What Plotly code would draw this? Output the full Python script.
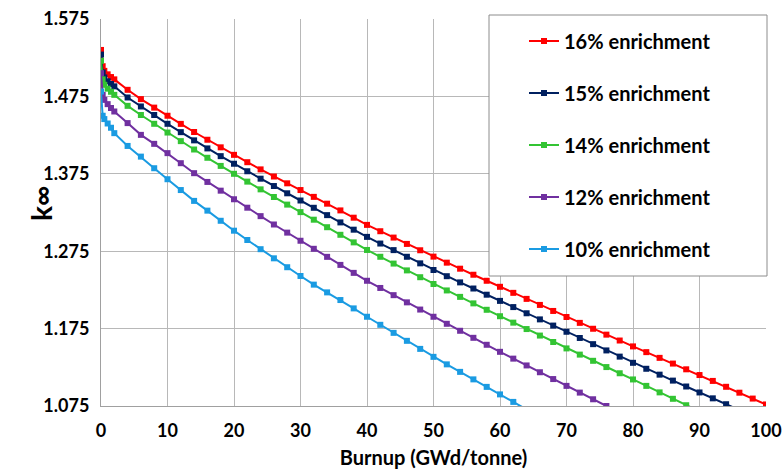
import plotly.graph_objects as go

# Burnup steps (GWd/tonne)
burnup = [0, 0.25, 0.5, 1, 1.5] + list(range(2, 101, 2))

series_names = ["16% enrichment", "15% enrichment", "14% enrichment",
                "12% enrichment", "10% enrichment"]

k16 = [1.535, 1.514, 1.508, 1.5035, 1.500,
       1.497, 1.4835, 1.4715, 1.4605, 1.450, 1.4395, 1.429, 1.419, 1.4092, 1.3995,
       1.390, 1.3807, 1.3715, 1.3627, 1.354, 1.3452, 1.3364, 1.3277, 1.3183, 1.309,
       1.3008, 1.2926, 1.2844, 1.2762, 1.268, 1.2602, 1.2524, 1.2446, 1.2368, 1.229,
       1.2212, 1.2134, 1.2056, 1.1978, 1.190, 1.1824, 1.1748, 1.1672, 1.1596, 1.152,
       1.1446, 1.1372, 1.1298, 1.1224, 1.115, 1.1074, 1.0998, 1.0922, 1.0846, 1.077]

k15 = [1.529, 1.506, 1.4995, 1.4945, 1.491,
       1.488, 1.4736, 1.462, 1.451, 1.4396, 1.4288, 1.4182, 1.4078, 1.3978, 1.388,
       1.3783, 1.3687, 1.3592, 1.3498, 1.3405, 1.3311, 1.3216, 1.3122, 1.3028, 1.2935,
       1.2849, 1.2764, 1.2678, 1.2593, 1.2507, 1.2427, 1.2347, 1.2268, 1.2188, 1.2108,
       1.2028, 1.1948, 1.1869, 1.1789, 1.1709, 1.1629, 1.1549, 1.1468, 1.1388, 1.1308,
       1.1231, 1.1155, 1.1078, 1.1002, 1.0925, 1.0849, 1.0773, 1.0697]

k14 = [1.521, 1.497, 1.490, 1.485, 1.481,
       1.477, 1.4628, 1.451, 1.4396, 1.4283, 1.4172, 1.4064, 1.3957, 1.3852, 1.375,
       1.3649, 1.3549, 1.345, 1.3352, 1.3255, 1.3157, 1.306, 1.2962, 1.2864, 1.2766,
       1.2678, 1.259, 1.2502, 1.2414, 1.2326, 1.2243, 1.216, 1.2076, 1.1993, 1.191,
       1.1827, 1.1744, 1.166, 1.1577, 1.1494, 1.1414, 1.1334, 1.1253, 1.1173, 1.1093,
       1.101, 1.0926, 1.0843, 1.076, 1.068]

k12 = [1.505, 1.477, 1.4705, 1.465, 1.460,
       1.4555, 1.4405, 1.4253, 1.4137, 1.4017, 1.3887, 1.3758, 1.3645, 1.3532, 1.3421,
       1.3312, 1.3203, 1.3095, 1.299, 1.2885, 1.2781, 1.2677, 1.2573, 1.247, 1.2368,
       1.2275, 1.2182, 1.2089, 1.1996, 1.1903, 1.1812, 1.1722, 1.1631, 1.1541, 1.145,
       1.1362, 1.1274, 1.1186, 1.1098, 1.101, 1.0923, 1.0837, 1.075]

k10 = [1.4813, 1.450, 1.4457, 1.440, 1.4345,
       1.4275, 1.411, 1.3972, 1.3822, 1.368, 1.354, 1.340, 1.3274, 1.3143, 1.3015,
       1.2895, 1.2776, 1.2658, 1.2543, 1.243, 1.2318, 1.2218, 1.2119, 1.2011, 1.1903,
       1.1799, 1.1695, 1.1592, 1.1488, 1.1385, 1.1288, 1.1191, 1.1094, 1.0997, 1.090,
       1.0803, 1.0705]

series_values = [k16, k15, k14, k12, k10]
colors = ["#FF0000", "#002060", "#33C433", "#7030A0", "#1A9BE2"]

x_ticks = [0, 10, 20, 30, 40, 50, 60, 70, 80, 90, 100]
y_ticks = [1.075, 1.175, 1.275, 1.375, 1.475, 1.575]
y_tick_labels = ["1.075", "1.175", "1.275", "1.375", "1.475", "1.575"]

FONT = "Lato"
L, R, T, B = 101, 17, 19, 68
PW, PH = 783 - L - R, 474 - T - B


def px_x(p):
    return (p - L) / PW


def px_y(p):
    return (474 - B - p) / PH


fig = go.Figure()
for i, (name, vals, col) in enumerate(zip(series_names, series_values, colors)):
    fig.add_trace(go.Scatter(
        x=burnup[:len(vals)], y=vals, name=name, mode="lines+markers",
        line=dict(color=col, width=2),
        marker=dict(symbol="square", size=6, color=col),
        legendgroup="g%d" % i,
    ))

# legend frame
fig.add_shape(type="rect", xref="paper", yref="paper",
              x0=px_x(489), x1=px_x(767), y0=px_y(276), y1=px_y(15),
              line=dict(color="#8c8c8c", width=1), fillcolor="white", layer="above")

fig.add_annotation(text="k∞", textangle=-90, xref="paper", yref="paper",
                   x=px_x(22), y=px_y(204), showarrow=False,
                   font=dict(family=FONT, size=28, color="black", weight="bold"))

fig.update_layout(
    width=783, height=474,
    margin=dict(l=L, r=R, t=T, b=B),
    paper_bgcolor="white", plot_bgcolor="white",
    font=dict(family=FONT, color="black"),
    showlegend=True,
    legend=dict(x=px_x(524), y=px_y(21.5), xanchor="left", yanchor="top",
                maxheight=470,
                bgcolor="rgba(0,0,0,0)", borderwidth=0, tracegroupgap=23,
                font=dict(family=FONT, size=20, color="black", weight="bold")),
    xaxis=dict(range=[0, 100], tickvals=x_ticks, ticktext=[str(v) for v in x_ticks],
               automargin=False,
               showgrid=True, gridcolor="#b8b8b8", gridwidth=1,
               showline=True, linecolor="#a0a0a0", linewidth=1, zeroline=False,
               ticks="outside", ticklen=0, ticklabelstandoff=8,
               tickfont=dict(family=FONT, size=18, color="black", weight="bold"),
               title=dict(text="Burnup (GWd/tonne)", standoff=11,
                          font=dict(family=FONT, size=20, color="black", weight="bold"))),
    yaxis=dict(range=[1.075, 1.575], tickvals=y_ticks, ticktext=y_tick_labels,
               automargin=False,
               showgrid=True, gridcolor="#b8b8b8", gridwidth=1,
               showline=True, linecolor="#a0a0a0", linewidth=1, zeroline=False,
               ticks="outside", ticklen=0, ticklabelstandoff=7,
               tickfont=dict(family=FONT, size=18, color="black", weight="bold")),
)

fig.write_html("out.html")
